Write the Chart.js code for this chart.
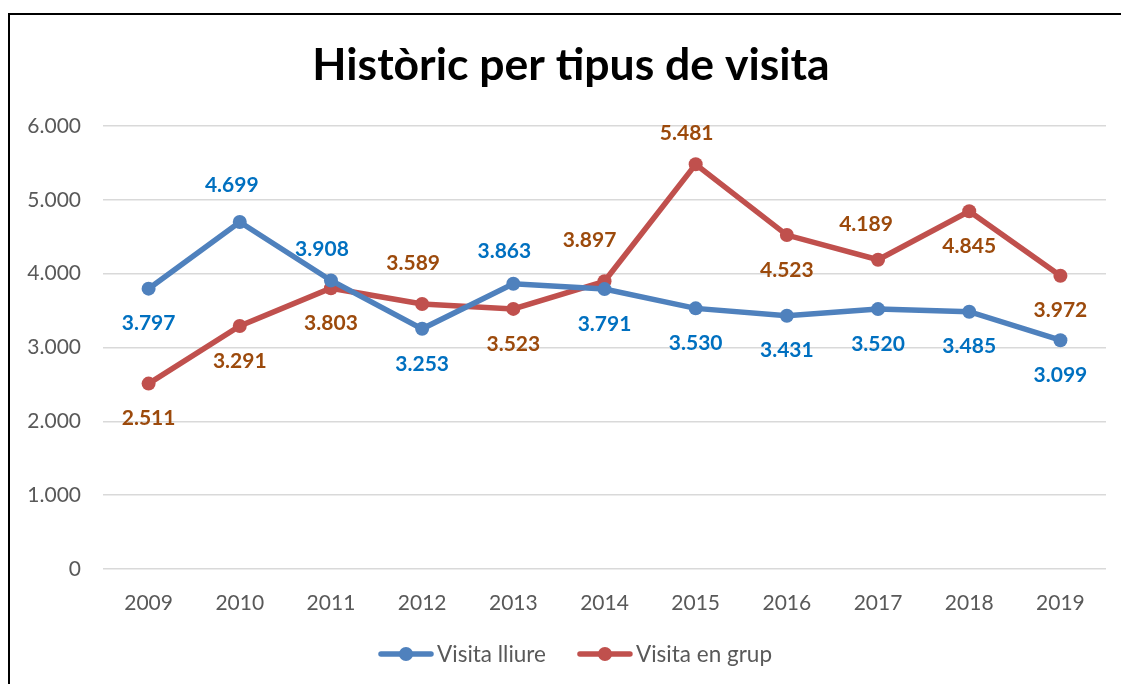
<!DOCTYPE html>
<html>
<head>
<meta charset="utf-8">
<script src="https://cdn.jsdelivr.net/npm/chart.js@4.4.0/dist/chart.umd.min.js"></script>
<style>
  html, body { margin: 0; padding: 0; background: #fff; }
  .frame {
    position: absolute; left: 8px; top: 13px; width: 1113px; height: 671px;
    border-top: 2px solid #000; border-left: 2px solid #000; box-sizing: border-box;
  }
  .chart-box { position: absolute; left: 0; top: 0; width: 1121px; height: 684px; }
</style>
</head>
<body>
<div class="frame"></div>
<div class="chart-box"><canvas id="chart"></canvas></div>
<script>
const years = ['2009', '2010', '2011', '2012', '2013', '2014', '2015', '2016', '2017', '2018', '2019'];
const visitaLliure = [3797, 4699, 3908, 3253, 3863, 3791, 3530, 3431, 3520, 3485, 3099];
const visitaGrup = [2511, 3291, 3803, 3589, 3523, 3897, 5481, 4523, 4189, 4845, 3972];

// etiquetes: 'a' = a sobre del punt, 'b' = a sota
const lliureLabelPos = ['b', 'a', 'a', 'b', 'a', 'b', 'b', 'b', 'b', 'b', 'b'];
const grupLabelPos = ['b', 'b', 'b', 'a', 'b', 'a', 'a', 'b', 'a', 'b', 'b'];

const FONT = 'Lato, "Open Sans", sans-serif';
const TITLE = 'Històric per tipus de visita';

function formatNum(v) {
  return String(v).replace(/\B(?=(\d{3})+(?!\d))/g, '.');
}

// títol i llegenda dibuixats a mà (Excel els centra sobre tot l'objecte)
const titleAndLegend = {
  id: 'titleAndLegend',
  afterDraw(chart) {
    const ctx = chart.ctx;
    ctx.save();
    ctx.fillStyle = '#000';
    ctx.font = 'bold 44.5px ' + FONT;
    ctx.textAlign = 'center';
    ctx.textBaseline = 'middle';
    ctx.fillText(TITLE, 571, 66);

    ctx.font = '22.5px ' + FONT;
    ctx.textAlign = 'left';
    const markW = 56, gap = 3, spacing = 31;
    const items = chart.data.datasets.map(ds => ({
      text: ds.label, color: ds.borderColor, w: markW + gap + ctx.measureText(ds.label).width
    }));
    const total = items.reduce((s, it) => s + it.w, 0) + spacing * (items.length - 1);
    let x = 575 - total / 2;
    const y = 654;
    items.forEach(it => {
      ctx.strokeStyle = it.color;
      ctx.lineWidth = 5.5;
      ctx.lineCap = 'round';
      ctx.beginPath();
      ctx.moveTo(x + 3, y);
      ctx.lineTo(x + markW - 3, y);
      ctx.stroke();
      ctx.fillStyle = it.color;
      ctx.beginPath();
      ctx.arc(x + markW / 2, y, 7, 0, Math.PI * 2);
      ctx.fill();
      ctx.fillStyle = '#595959';
      ctx.fillText(it.text, x + markW + gap, y + 1);
      x += it.w + spacing;
    });
    ctx.restore();
  }
};

const valueLabels = {
  id: 'valueLabels',
  afterDatasetsDraw(chart) {
    const ctx = chart.ctx;
    ctx.save();
    ctx.font = 'bold 21px ' + FONT;
    ctx.textAlign = 'center';
    ctx.textBaseline = 'middle';
    chart.data.datasets.forEach((ds, di) => {
      const meta = chart.getDatasetMeta(di);
      ctx.fillStyle = ds.labelColor;
      meta.data.forEach((pt, i) => {
        const above = ds.labelPos[i] === 'a';
        const dx = above ? (ds.labelDx[i] ?? -9) : 0;
        const dy = above ? (ds.labelDy[i] ?? -34) : 35;
        ctx.fillText(formatNum(ds.data[i]), pt.x + dx, pt.y + dy);
      });
    });
    ctx.restore();
  }
};

new Chart(document.getElementById('chart'), {
  type: 'line',
  data: {
    labels: years,
    datasets: [{
      label: 'Visita lliure',
      data: visitaLliure,
      borderColor: '#4F81BD',
      backgroundColor: '#4F81BD',
      pointBackgroundColor: '#4F81BD',
      borderWidth: 5.5,
      pointRadius: 7,
      pointBorderWidth: 0,
      tension: 0,
      labelColor: '#0070C0',
      labelPos: lliureLabelPos,
      labelDx: { 1: -8 },
      labelDy: { 1: -37, 2: -31, 4: -33 },
    }, {
      label: 'Visita en grup',
      data: visitaGrup,
      borderColor: '#C0504D',
      backgroundColor: '#C0504D',
      pointBackgroundColor: '#C0504D',
      borderWidth: 5.5,
      pointRadius: 7,
      pointBorderWidth: 0,
      tension: 0,
      labelColor: '#9C4A0C',
      labelPos: grupLabelPos,
      labelDx: { 5: -15, 8: -12 },
      labelDy: { 3: -41, 5: -41, 6: -31, 8: -35 },
    }]
  },
  options: {
    responsive: true,
    maintainAspectRatio: false,
    animation: false,
    layout: {
      padding: { left: 0, right: 15, top: 126, bottom: 51 }
    },
    scales: {
      x: {
        offset: true,
        grid: { display: false },
        border: { display: false },
        ticks: {
          color: '#595959',
          padding: 14,
          font: { family: FONT, size: 21 },
        },
        afterFit: scale => { scale.height = 64; },
      },
      y: {
        min: 0,
        max: 6000,
        grid: { color: '#D9D9D9', lineWidth: 1.5, drawTicks: false },
        border: { display: false },
        ticks: {
          stepSize: 1000,
          color: '#595959',
          padding: 22,
          font: { family: FONT, size: 21 },
          callback: v => formatNum(v),
        },
        afterFit: scale => { scale.width = 103; },
      }
    },
    plugins: {
      title: { display: false },
      legend: { display: false },
      tooltip: { enabled: false }
    }
  },
  plugins: [valueLabels, titleAndLegend]
});
</script>
</body>
</html>
